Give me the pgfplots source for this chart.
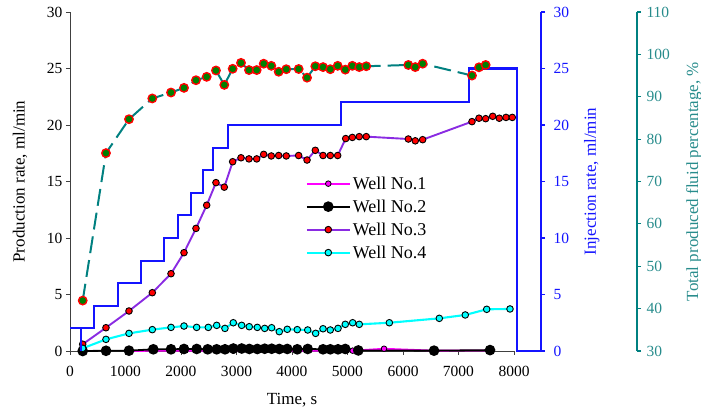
\documentclass[border=0pt]{standalone}
\usepackage{pgfplots}
\pgfplotsset{compat=1.18}
\usepackage{fontspec}
\setmainfont{Liberation Serif}
\definecolor{wviolet}{RGB}{138,43,226}
\definecolor{injblue}{RGB}{20,20,255}
\definecolor{tealc}{RGB}{0,128,128}
\definecolor{tealtext}{RGB}{40,140,140}
\definecolor{mgreen}{RGB}{0,128,0}
\definecolor{axgray}{RGB}{64,64,64}
\definecolor{wcyan}{RGB}{0,255,255}
\definecolor{wmag}{RGB}{255,0,255}
\definecolor{wred}{RGB}{255,0,0}
\pgfplotsset{
 common/.style={
  scale only axis, height=339pt, ymin=0, clip=false,
  /pgf/number format/assume math mode=true,
  /pgf/number format/1000 sep={},
  scaled ticks=false,
  tick align=outside, major tick length=4pt,
  tick label style={font=\fontsize{15.5}{17}\selectfont},
  label style={font=\fontsize{17}{20}\selectfont},
 }
}
\begin{document}
\begin{tikzpicture}
\begin{axis}[common, width=444pt, xmin=0, xmax=8000, ymax=30,
  axis x line*=bottom, axis y line*=left,
  axis line style={axgray, line width=0.9pt},
  tick style={axgray, line width=0.9pt},
  xtick={0,1000,...,8000}, ytick={0,5,...,30},
  xticklabel style={yshift=-8pt},
  xlabel={Time, s}, ylabel={Production rate, ml/min},
  xlabel style={at={(axis description cs:0.5,-0.145)}, anchor=center},
  ylabel style={at={(axis description cs:-0.1126,0.5)}, anchor=center},
  legend style={at={(axis cs:4190,15.8)}, anchor=north west, draw=none, fill=none,
    font=\fontsize{18}{20}\selectfont, row sep=5pt},
  legend cell align=left,
  legend image code/.code={\draw[mark repeat=2,mark phase=2,#1] plot coordinates {(0pt,0pt) (21.5pt,0pt) (43pt,0pt)};},
]
% Well No.1
\addplot[wmag, line width=1.8pt, mark=*, mark size=2.8pt, mark options={fill=wmag, draw=black, line width=0.8pt}] coordinates {
(1063,0) (1501,0.02) (1820,0.02) (2054,0.02) (2481,0.02) (2943,0.02) (3375,0.02) (3771,0.02) (4095,0.02) (4559,0.02) (4960,0.03) (5093,0.03) (5658,0.2) (6559,0.03) (7568,0.05)
};
\addlegendentry{Well No.1}
% Well No.2
\addplot[black, line width=1.8pt, mark=*, mark size=4.4pt, mark options={fill=black, draw=black}] coordinates {
(229,0) (649,0.02) (1063,0.03) (1501,0.15) (1820,0.15) (2054,0.18) (2283,0.18) (2481,0.15) (2643,0.15) (2793,0.15) (2943,0.22) (3094,0.22) (3231,0.18) (3375,0.18) (3508,0.2) (3634,0.2) (3771,0.18) (3915,0.18) (4095,0.15) (4283,0.18) (4559,0.15) (4690,0.15) (4829,0.15) (4960,0.18) (5195,0.05) (6559,0.03) (7568,0.08)
};
\addlegendentry{Well No.2}
% Well No.3
\addplot[wviolet, line width=1.9pt, mark=*, mark size=3.3pt, mark options={fill=wred, draw=black, line width=0.9pt}] coordinates {
(229,0.6) (648,2.06) (1063,3.54) (1483,5.16) (1820,6.84) (2054,8.7) (2270,10.85) (2463,12.9) (2630,14.9) (2780,14.5) (2931,16.75) (3081,17.1) (3225,17.0) (3364,17.0) (3490,17.4) (3627,17.26) (3760,17.3) (3897,17.26) (4120,17.3) (4271,16.9) (4420,17.76) (4559,17.3) (4690,17.3) (4823,17.3) (4968,18.8) (5087,18.9) (5212,18.97) (5338,18.97) (6096,18.76) (6221,18.6) (6354,18.7) (7243,20.3) (7369,20.6) (7489,20.56) (7616,20.77) (7735,20.6) (7856,20.67) (7969,20.67)
};
\addlegendentry{Well No.3}
% Well No.4
\addplot[wcyan, line width=2.1pt, mark=*, mark size=3.3pt, mark options={fill=wcyan, draw=black, line width=0.9pt}] coordinates {
(229,0.24) (648,1.03) (1063,1.56) (1483,1.89) (1820,2.09) (2054,2.21) (2282,2.09) (2492,2.09) (2643,2.27) (2792,2.0) (2942,2.5) (3093,2.27) (3230,2.15) (3375,2.09) (3508,2.0) (3633,2.06) (3771,1.71) (3915,1.92) (4095,1.89) (4283,1.86) (4426,1.56) (4559,1.97) (4690,1.86) (4829,2.0) (4960,2.36) (5093,2.5) (5212,2.36) (5754,2.5) (6654,2.89) (7122,3.19) (7508,3.69) (7928,3.72)
};
\addlegendentry{Well No.4}
\end{axis}
\begin{axis}[common, width=471pt, xmin=0, xmax=8486, ymax=30,
  hide x axis, axis y line*=right,
  axis line style={injblue, line width=1.2pt},
  ytick={0,5,...,30},
  ytick style={injblue, line width=1.2pt},
  yticklabel style={injblue, xshift=5pt},
  ylabel={Injection rate, ml/min},
  ylabel style={injblue, at={(axis description cs:1.108,0.5)}, anchor=center},
]
\addplot[injblue, line width=2.1pt, line join=miter, mark=none] coordinates {
(193,0) (193,2) (0,2) (432,2) (432,4) (859,4) (859,6) (1279,6) (1279,8) (1699,8) (1699,10) (1941,10) (1941,12) (2175,12) (2175,14) (2391,14) (2391,16) (2571,16) (2571,18) (2852,18) (2852,20) (4883,20) (4883,22) (7195,22) (7195,25) (8048,25) (8048,0) (8486,0)
};
\end{axis}
\begin{axis}[common, width=567pt, xmin=0, xmax=10216, ymin=30, ymax=110,
  hide x axis, axis y line*=right,
  axis line style={tealc, line width=1.2pt},
  ytick={30,40,...,110},
  ytick style={tealc, line width=1.2pt},
  yticklabel style={tealtext, xshift=2pt},
  ylabel={Total produced fluid percentage, \%},
  ylabel style={tealtext, at={(axis description cs:1.1005,0.5)}, anchor=center},
]
\addplot[tealc, line width=2pt, dash pattern=on 17pt off 7pt, mark=*, mark size=4.2pt, mark options={solid, fill=mgreen, draw=wred, line width=1.4pt}] coordinates {
(229,41.9) (648,76.7) (1063,84.7) (1483,89.6) (1820,91.0) (2054,92.1) (2270,93.9) (2463,94.7) (2630,96.2) (2780,92.8) (2931,96.6) (3081,98.0) (3225,96.3) (3364,96.3) (3490,97.8) (3627,97.3) (3760,95.9) (3897,96.5) (4120,96.55) (4271,94.5) (4420,97.2) (4559,97.0) (4690,96.5) (4823,97.3) (4960,96.4) (5087,97.3) (5212,97.0) (5338,97.2) (6096,97.5) (6221,97.0) (6354,97.8) (7243,95.0) (7369,96.95) (7489,97.5)
};
\end{axis}
\pgfresetboundingbox
\path (-70pt,-66pt) rectangle (631pt,351pt);
\end{tikzpicture}
\end{document}
